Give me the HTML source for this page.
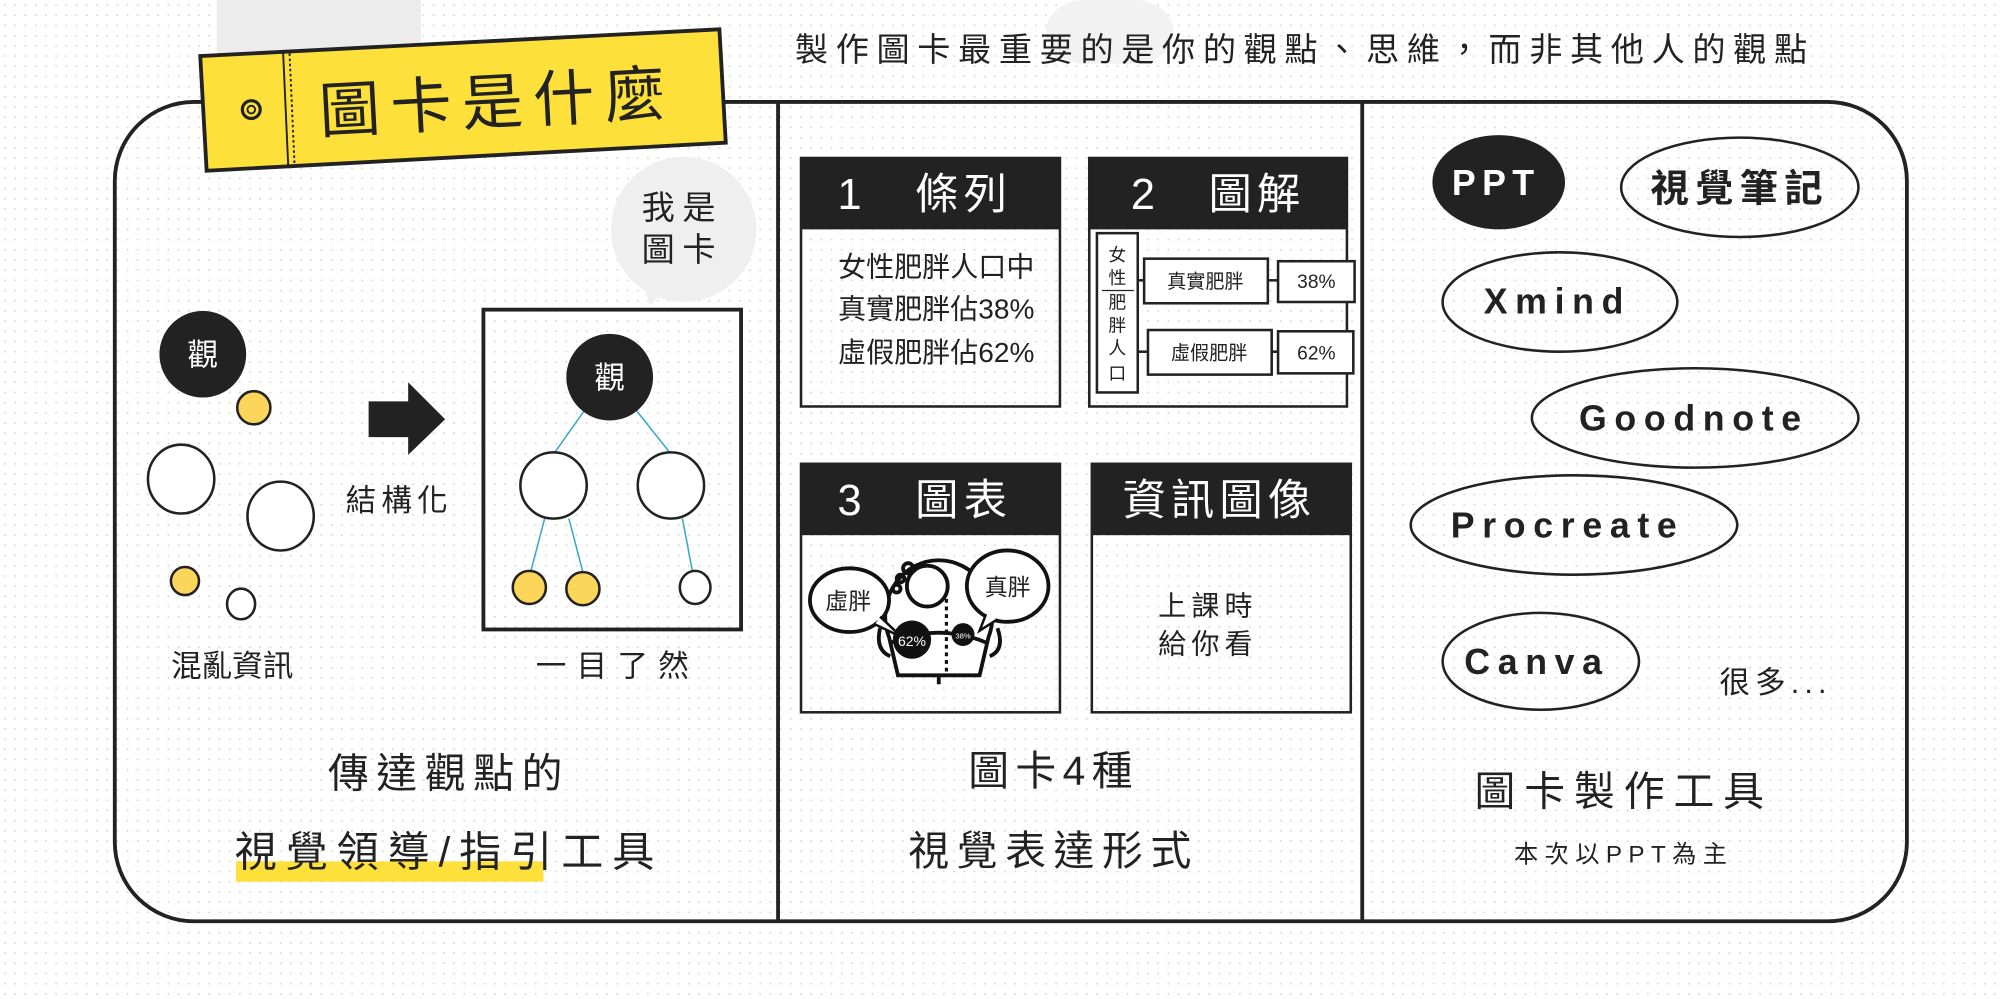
<!DOCTYPE html>
<html><head><meta charset="utf-8"><style>
html,body{margin:0;padding:0;background:#fff;}
svg{display:block;}
text{font-family:"Liberation Sans","Noto Sans CJK TC",sans-serif;fill:#222;}
</style></head><body>
<svg width="2000" height="999" viewBox="0 0 1568 784" preserveAspectRatio="none" xmlns="http://www.w3.org/2000/svg">
<defs>
<pattern id="dots" width="8" height="8" patternUnits="userSpaceOnUse"><circle cx="4" cy="4" r="0.8" fill="#d8d8d8"/></pattern>
</defs>
<rect width="1568" height="784" fill="#fff"/>
<rect width="1568" height="784" fill="url(#dots)"/>
<rect x="170" y="0" width="160" height="42" fill="#ececec"/>
<rect x="820" y="0" width="100" height="50" fill="#f2f2f2" rx="30"/>

<!-- outer -->
<rect x="90" y="80" width="1405" height="643" rx="62" fill="none" stroke="#222" stroke-width="3"/>
<line x1="610" y1="80" x2="610" y2="723" stroke="#222" stroke-width="3"/>
<line x1="1068" y1="80" x2="1068" y2="723" stroke="#222" stroke-width="3"/>

<!-- tag -->
<polygon points="157,44 564,23 569,112 162,134" fill="#fde03a" stroke="#222" stroke-width="3"/>
<line x1="222" y1="42" x2="226" y2="131" stroke="#222" stroke-width="1.5"/>
<line x1="227" y1="42" x2="231" y2="131" stroke="#222" stroke-width="1.5" stroke-dasharray="2,2"/>
<circle cx="197" cy="86" r="7" fill="none" stroke="#222" stroke-width="2.5"/>
<circle cx="197" cy="86" r="3" fill="none" stroke="#222" stroke-width="1.5"/>
<text x="390" y="97" font-size="48" text-anchor="middle" letter-spacing="8" transform="rotate(-3 390 80)">圖卡是什麼</text>

<text x="1023" y="48" font-size="26" text-anchor="middle" letter-spacing="6">製作圖卡最重要的是你的觀點、思維，而非其他人的觀點</text>

<!-- left panel -->
<circle cx="159" cy="278" r="34" fill="#222"/>
<text x="159" y="287" font-size="24" text-anchor="middle" style="fill:#fff">觀</text>
<ellipse cx="199" cy="320" rx="13" ry="13" fill="#fcd65a" stroke="#222" stroke-width="2"/>
<ellipse cx="142" cy="376" rx="26" ry="27" fill="#fff" stroke="#222" stroke-width="2"/>
<ellipse cx="220" cy="405" rx="26" ry="27" fill="#fff" stroke="#222" stroke-width="2"/>
<ellipse cx="145" cy="456" rx="11" ry="11" fill="#fcd65a" stroke="#222" stroke-width="2"/>
<ellipse cx="189" cy="474" rx="11" ry="12" fill="#fff" stroke="#222" stroke-width="2"/>
<polygon points="289,315 320,315 320,300 349,329 320,357 320,343 289,343" fill="#222"/>
<text x="313" y="401" font-size="24" text-anchor="middle" letter-spacing="4">結構化</text>
<text x="182" y="531" font-size="24" text-anchor="middle">混亂資訊</text>

<circle cx="536" cy="180" r="57" fill="#efefef"/>
<polygon points="505,225 520,228 510,240" fill="#efefef"/>
<text x="535" y="172" font-size="26" text-anchor="middle" letter-spacing="6">我是</text>
<text x="535" y="205" font-size="26" text-anchor="middle" letter-spacing="6">圖卡</text>

<rect x="379" y="243" width="202" height="251" fill="none" stroke="#222" stroke-width="3"/>
<g stroke="#3aa6c8" stroke-width="1.2">
<line x1="459" y1="321" x2="435" y2="355"/><line x1="498" y1="321" x2="525" y2="355"/>
<line x1="427" y1="407" x2="416" y2="449"/><line x1="446" y1="407" x2="457" y2="449"/><line x1="535" y1="407" x2="543" y2="449"/>
</g>
<circle cx="478" cy="296" r="34" fill="#222"/>
<text x="478" y="305" font-size="24" text-anchor="middle" style="fill:#fff">觀</text>
<ellipse cx="434" cy="381" rx="26" ry="26" fill="#fff" stroke="#222" stroke-width="2"/>
<ellipse cx="526" cy="381" rx="26" ry="26" fill="#fff" stroke="#222" stroke-width="2"/>
<ellipse cx="415" cy="461" rx="13" ry="13" fill="#fcd65a" stroke="#222" stroke-width="2"/>
<ellipse cx="457" cy="462" rx="13" ry="13" fill="#fcd65a" stroke="#222" stroke-width="2"/>
<ellipse cx="545" cy="461" rx="12" ry="13" fill="#fff" stroke="#222" stroke-width="2"/>
<text x="484" y="531" font-size="24" text-anchor="middle" letter-spacing="8">一目了然</text>

<text x="352" y="618" font-size="32" text-anchor="middle" letter-spacing="6">傳達觀點的</text>
<rect x="185" y="676" width="241" height="16" fill="#fde03a"/>
<text x="352" y="680" font-size="33" text-anchor="middle" letter-spacing="7">視覺領導/指引工具</text>

<!-- middle -->
<rect x="628" y="124" width="203" height="195" fill="none" stroke="#222" stroke-width="2"/>
<rect x="628" y="124" width="203" height="56" fill="#222"/>
<text x="725" y="164" font-size="34" text-anchor="middle" style="fill:#fff" letter-spacing="4">1　條列</text>
<text x="734" y="217" font-size="22" text-anchor="middle">女性肥胖人口中</text>
<text x="734" y="250" font-size="22" text-anchor="middle">真實肥胖佔38%</text>
<text x="734" y="284" font-size="22" text-anchor="middle">虛假肥胖佔62%</text>

<rect x="854" y="124" width="202" height="195" fill="none" stroke="#222" stroke-width="2"/>
<rect x="854" y="124" width="202" height="56" fill="#222"/>
<text x="955" y="164" font-size="34" text-anchor="middle" style="fill:#fff" letter-spacing="4">2　圖解</text>
<rect x="860" y="183" width="32" height="125" fill="#fff" stroke="#222" stroke-width="2"/>
<g font-size="14" text-anchor="middle"><text x="876" y="205">女</text><text x="876" y="223">性</text><text x="876" y="242">肥</text><text x="876" y="260">胖</text><text x="876" y="278">人</text><text x="876" y="298">口</text></g>
<line x1="864" y1="228" x2="889" y2="228" stroke="#222" stroke-width="1"/>
<line x1="892" y1="220" x2="897" y2="220" stroke="#222" stroke-width="2"/>
<line x1="892" y1="276" x2="900" y2="276" stroke="#222" stroke-width="2"/>
<rect x="897" y="203" width="97" height="35" fill="#fff" stroke="#222" stroke-width="2"/>
<text x="945" y="226" font-size="15" text-anchor="middle">真實肥胖</text>
<line x1="994" y1="220" x2="1002" y2="220" stroke="#222" stroke-width="2"/>
<rect x="1002" y="205" width="60" height="32" fill="#fff" stroke="#222" stroke-width="2"/>
<text x="1032" y="226" font-size="15" text-anchor="middle">38%</text>
<rect x="900" y="259" width="97" height="35" fill="#fff" stroke="#222" stroke-width="2"/>
<text x="948" y="282" font-size="15" text-anchor="middle">虛假肥胖</text>
<line x1="997" y1="276" x2="1002" y2="276" stroke="#222" stroke-width="2"/>
<rect x="1002" y="260" width="59" height="33" fill="#fff" stroke="#222" stroke-width="2"/>
<text x="1032" y="282" font-size="15" text-anchor="middle">62%</text>

<rect x="628" y="364" width="203" height="195" fill="none" stroke="#222" stroke-width="2"/>
<rect x="628" y="364" width="203" height="56" fill="#222"/>
<text x="725" y="404" font-size="34" text-anchor="middle" style="fill:#fff" letter-spacing="4">3　圖表</text>
<!-- doodle -->
<g fill="none" stroke="#111" stroke-width="3">
<path d="M697,500 A42,44 0 1 1 775,500 L768,530 L704,530 Z" fill="#fff"/>
<path d="M697,505 Q736,488 775,505"/>
<line x1="736" y1="530" x2="736" y2="537"/>
<path d="M690,493 Q686,510 698,515"/><path d="M782,493 Q788,510 776,515"/>
<circle cx="727" cy="460" r="16" fill="#fff"/>
<circle cx="712" cy="446" r="4"/><circle cx="706" cy="454" r="3"/><circle cx="703" cy="462" r="3"/>
<line x1="742" y1="470" x2="742" y2="530" stroke-dasharray="3,3" stroke-width="2.5"/>
<ellipse cx="666" cy="471" rx="31" ry="25" fill="#fff"/>
<path d="M690,484 L707,500 L686,490" fill="#fff" stroke-width="2"/>
<ellipse cx="790" cy="460" rx="32" ry="28" fill="#fff"/>
<path d="M773,482 L768,495 L782,486" fill="#fff" stroke-width="2"/>
</g>
<circle cx="715" cy="502" r="15" fill="#111"/>
<text x="715" y="507" font-size="11" text-anchor="middle" style="fill:#fff">62%</text>
<circle cx="755" cy="498" r="9" fill="#111"/>
<text x="755" y="501" font-size="6" text-anchor="middle" style="fill:#fff">38%</text>
<text x="665" y="478" font-size="18" text-anchor="middle">虛胖</text>
<text x="790" y="467" font-size="18" text-anchor="middle">真胖</text>

<rect x="856" y="364" width="203" height="195" fill="none" stroke="#222" stroke-width="2"/>
<rect x="856" y="364" width="203" height="56" fill="#222"/>
<text x="956" y="404" font-size="34" text-anchor="middle" style="fill:#fff" letter-spacing="4">資訊圖像</text>
<text x="947" y="483" font-size="22" text-anchor="middle" letter-spacing="4">上課時</text>
<text x="947" y="513" font-size="22" text-anchor="middle" letter-spacing="4">給你看</text>

<text x="826" y="616" font-size="32" text-anchor="middle" letter-spacing="5">圖卡4種</text>
<text x="826" y="679" font-size="32" text-anchor="middle" letter-spacing="6">視覺表達形式</text>

<!-- right -->
<g font-weight="bold" style="font-family:'Liberation Sans',sans-serif" text-anchor="middle">
<ellipse cx="1175" cy="143" rx="52" ry="37" fill="#222"/>
<text x="1173" y="153" font-size="28" letter-spacing="5" style="fill:#fff">PPT</text>
<ellipse cx="1364" cy="147" rx="93" ry="39" fill="none" stroke="#222" stroke-width="2"/>
<ellipse cx="1223" cy="237" rx="92" ry="39" fill="none" stroke="#222" stroke-width="2"/>
<text x="1221" y="246" font-size="28" letter-spacing="6">Xmind</text>
<ellipse cx="1329" cy="328" rx="128" ry="39" fill="none" stroke="#222" stroke-width="2"/>
<text x="1328" y="338" font-size="28" letter-spacing="6">Goodnote</text>
<ellipse cx="1234" cy="412" rx="128" ry="39" fill="none" stroke="#222" stroke-width="2"/>
<text x="1229" y="422" font-size="28" letter-spacing="6">Procreate</text>
<ellipse cx="1208" cy="519" rx="77" ry="38" fill="none" stroke="#222" stroke-width="2"/>
<text x="1205" y="529" font-size="28" letter-spacing="6">Canva</text>
</g>
<text x="1364" y="158" font-size="30" text-anchor="middle" letter-spacing="5" font-weight="bold">視覺筆記</text>
<text x="1392" y="544" font-size="24" text-anchor="middle" letter-spacing="4">很多...</text>
<text x="1273" y="632" font-size="32" text-anchor="middle" letter-spacing="7">圖卡製作工具</text>
<text x="1273" y="677" font-size="19" text-anchor="middle" letter-spacing="5">本次以PPT為主</text>
</svg>
</body></html>
